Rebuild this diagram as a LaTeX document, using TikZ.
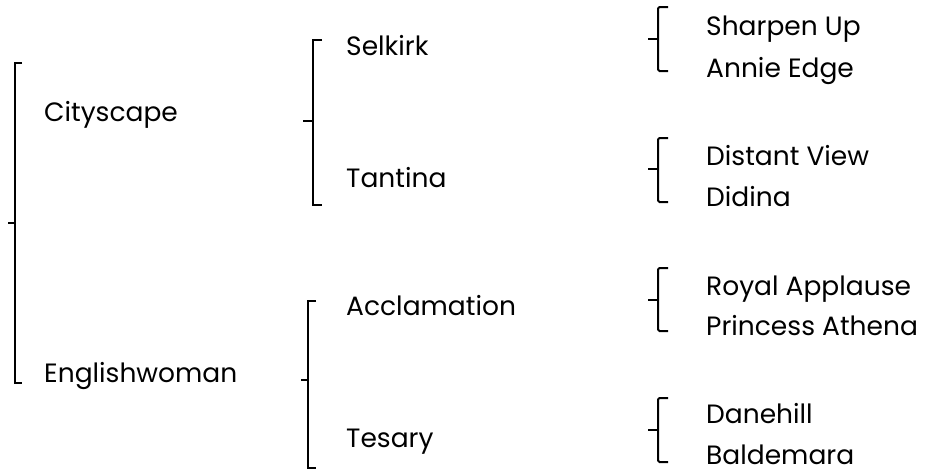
\documentclass[tikz,border=0pt]{standalone}
\usepackage{fontspec}
\setmainfont{Poppins}
\usepackage{tikz}

\begin{document}
\begin{tikzpicture}[x=1pt, y=-1pt,
    brk/.style={line width=2pt, line cap=butt},
    sbrk/.style={brk, rounded corners=1.5pt},
    horse/.style={anchor=base west, inner sep=0pt, font=\fontsize{26.5}{30}\selectfont}]
        \useasboundingbox (0, 0) rectangle (927, 472);

        % level 1
        \node[horse] (city) at (44, 121) {Cityscape};
        \node[horse] (engl) at (44, 382) {Englishwoman};
        \draw[brk] (22, 63) -- (15, 63) -- (15, 383) -- (22, 383);
        \draw[brk] (8, 223) -- (15, 223);

        % level 2
        \node[horse] (selk) at (346, 55) {Selkirk};
        \node[horse] (tant) at (346, 187) {Tantina};
        \node[horse] (accl) at (346, 315) {Acclamation};
        \node[horse] (tesa) at (346, 447) {Tesary};
        \draw[brk] (322, 40) -- (313, 40) -- (313, 205) -- (322, 205);
        \draw[brk] (303, 121) -- (313, 121);
        \draw[brk] (316, 301) -- (308, 301) -- (308, 468) -- (316, 468);
        \draw[brk] (301, 380) -- (308, 380);

        % level 3
        \node[horse] (shar) at (706, 35) {Sharpen Up};
        \node[horse] (anni) at (706, 77) {Annie Edge};
        \node[horse] (dist) at (706, 165) {Distant View};
        \node[horse] (didi) at (706, 206) {Didina};
        \node[horse] (roya) at (706, 295) {Royal Applause};
        \node[horse] (prin) at (706, 335) {Princess Athena};
        \node[horse] (dane) at (706, 423) {Danehill};
        \node[horse, text depth=0pt] (bald) at (706, 464) {Baldemara};
        \draw[sbrk] (668, 7) -- (658, 7) -- (658, 71) -- (668, 71);
        \draw[brk] (648, 39) -- (658, 39);
        \draw[sbrk] (668, 138) -- (658, 138) -- (658, 202) -- (668, 202);
        \draw[brk] (648, 169) -- (658, 169);
        \draw[sbrk] (668, 268) -- (658, 268) -- (658, 331) -- (668, 331);
        \draw[brk] (648, 300) -- (658, 300);
        \draw[sbrk] (668, 398) -- (658, 398) -- (658, 462) -- (668, 462);
        \draw[brk] (648, 430) -- (658, 430);
\end{tikzpicture}
\end{document}
